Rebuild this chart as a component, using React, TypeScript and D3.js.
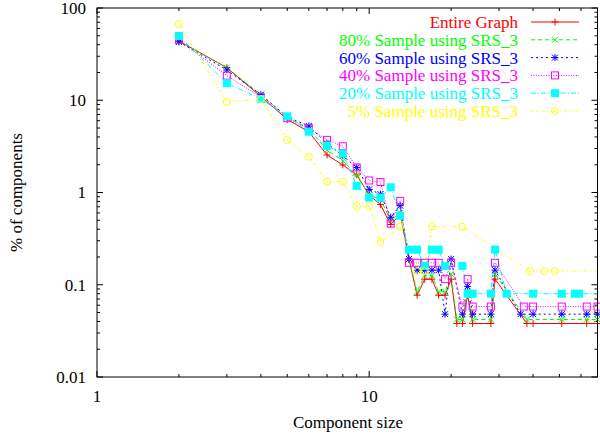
import React from 'react';
import * as d3 from 'd3';

const W = 600;
const H = 437;
const PLOT = { left: 97, right: 597.5, top: 8, bottom: 377 };

const xDomain: [number, number] = [1, 69];
const yDomain: [number, number] = [0.01, 100];
const xMajorTicks = [1, 10];
const xMajorLabels = ['1', '10'];
const xMinorTicks = [2, 3, 4, 5, 6, 7, 8, 9, 20, 30, 40, 50, 60];
const yMajorTicks = [0.01, 0.1, 1, 10, 100];
const yMajorLabels = ['0.01', '0.1', '1', '10', '100'];
const yMinorTicks = [0.02,0.03,0.04,0.05,0.06,0.07,0.08,0.09,0.2,0.3,0.4,0.5,0.6,0.7,0.8,0.9,2,3,4,5,6,7,8,9,20,30,40,50,60,70,80,90];

const seriesNames = [
  'Entire Graph',
  '80% Sample using SRS_3',
  '60% Sample using SRS_3',
  '40% Sample using SRS_3',
  '20% Sample using SRS_3',
  '5% Sample using SRS_3',
];
const seriesColors = ['#ff0000', '#00ff00', '#0000ff', '#ff00ff', '#00ffff', '#ffff00'];

const entireGraph: [number, number][] = [
  [2, 44], [3, 22.5], [4, 11], [5, 6.2], [6, 4.56], [7, 2.55], [8, 1.99], [9, 1.55], [10, 0.94],
  [11, 0.74], [12, 0.45], [13, 0.58], [14, 0.19], [15, 0.077], [16, 0.115], [17, 0.115], [18, 0.077],
  [19, 0.077], [20, 0.115], [21, 0.038], [22, 0.038], [23, 0.077], [24, 0.038], [28, 0.038], [29, 0.115],
  [38, 0.038], [40, 0.038], [51, 0.038], [63, 0.038], [69, 0.038],
];
const sample80: [number, number][] = [
  [2, 44], [3, 22.5], [4, 11.5], [5, 6.5], [6, 4.9], [7, 2.89], [8, 2.2], [9, 1.55], [10, 0.94],
  [11, 0.84], [12, 0.5], [13, 0.6], [14, 0.19], [15, 0.084], [16, 0.126], [17, 0.126], [18, 0.084],
  [19, 0.084], [20, 0.13], [21, 0.042], [22, 0.042], [23, 0.084], [24, 0.042], [28, 0.042], [29, 0.13],
  [38, 0.042], [51, 0.042], [63, 0.042], [69, 0.042],
];
const sample60: [number, number][] = [
  [2, 42.9], [3, 21.3], [4, 11.5], [5, 6.6], [6, 5.26], [7, 3.4], [8, 2.5], [9, 1.87], [10, 1.08],
  [11, 0.96], [12, 0.54], [13, 0.72], [14, 0.19], [15, 0.144], [16, 0.144], [17, 0.144], [18, 0.144],
  [19, 0.048], [20, 0.19], [22, 0.048], [23, 0.096], [24, 0.048], [28, 0.048], [29, 0.144],
  [36, 0.048], [40, 0.048], [51, 0.048], [63, 0.048], [69, 0.048],
];
const sample40: [number, number][] = [
  [2, 45], [3, 18.5], [4, 10.8], [5, 6.4], [6, 5.0], [7, 3.72], [8, 3.17], [9, 1.87], [10, 1.35],
  [11, 1.3], [12, 0.46], [13, 0.81], [14, 0.173], [15, 0.173], [16, 0.173], [17, 0.173], [18, 0.173],
  [19, 0.115], [20, 0.173], [22, 0.058], [23, 0.115], [24, 0.058], [28, 0.058], [29, 0.173],
  [37, 0.058], [40, 0.058], [51, 0.058], [63, 0.058], [69, 0.058],
];
const sample20: [number, number][] = [
  [2, 49.7], [3, 15.3], [4, 10.3], [5, 6.7], [6, 4.56], [7, 3.2], [8, 2.64], [9, 1.18], [10, 0.88],
  [11, 0.88], [12, 1.14], [13, 0.56], [14, 0.24], [15, 0.24], [16, 0.16], [17, 0.24], [18, 0.24],
  [19, 0.16], [22, 0.16], [23, 0.08], [24, 0.08], [28, 0.08], [29, 0.24], [32, 0.08], [40, 0.08],
  [51, 0.08], [57, 0.08], [59, 0.08], [75, 0.08],
];
const sample5: [number, number][] = [
  [2, 67], [3, 9.6], [4, 10.3], [5, 3.7], [6, 2.44], [7, 1.31], [8, 1.31], [9, 0.71], [10, 0.71],
  [11, 0.29], [13, 0.426], [15, 0.141], [16, 0.141], [17, 0.426], [22, 0.426], [39, 0.141],
  [44, 0.141], [48, 0.141], [80, 0.141],
];

const allSeries = [entireGraph, sample80, sample60, sample40, sample20, sample5];
const dashes = ['none', '4,3', '2,3', '1,1.5', '5,2,1,2', '3,2,1,2,1,2'];
const markerTypes = ['plus', 'cross', 'star', 'square', 'fsquare', 'circle'];

const FONT = "'Liberation Serif', 'DejaVu Serif', 'Noto Serif', 'Tinos', 'Nimbus Roman', 'FreeSerif', 'Times New Roman', Times, serif";
const textStyle: React.CSSProperties = { fontFamily: FONT, fontSize: '17px' };

function Marker({ type, x, y, color }: { type: string; x: number; y: number; color: string }) {
  const s = 3.5;
  const t = `translate(${x},${y})`;
  if (type === 'plus') return <path transform={t} d={`M${-s},0H${s}M0,${-s}V${s}`} stroke={color} strokeWidth={1} fill="none" />;
  if (type === 'cross') return <path transform={t} d={`M-3,-3L3,3M-3,3L3,-3`} stroke={color} strokeWidth={1} fill="none" />;
  if (type === 'star') return <path transform={t} d={`M${-s},0H${s}M0,${-s}V${s}M-3,-3L3,3M-3,3L3,-3`} stroke={color} strokeWidth={1} fill="none" />;
  if (type === 'square') return <rect transform={t} x={-s} y={-s} width={2 * s} height={2 * s} stroke={color} strokeWidth={1} fill="none" />;
  if (type === 'fsquare') return <rect transform={t} x={-s - 0.5} y={-s - 0.5} width={2 * s + 1} height={2 * s + 1} fill={color} stroke="none" />;
  return <circle transform={t} r={s} stroke={color} strokeWidth={1} fill="none" />;
}

export default function App() {
  const x = d3.scaleLog().domain(xDomain).range([PLOT.left, PLOT.right]);
  const y = d3.scaleLog().domain(yDomain).range([PLOT.bottom, PLOT.top]);
  const line = d3.line<[number, number]>().x(d => x(d[0])).y(d => y(d[1]));

  const legendX1 = 531, legendX2 = 579, legendTextX = 518;
  const legendY0 = 22, legendDy = 17.8;

  return (
    <svg width={W} height={H} style={{ position: 'absolute', left: 0, top: 0, background: '#fff' }}>
      <defs>
        <clipPath id="plotclip">
          <rect x={PLOT.left} y={PLOT.top} width={PLOT.right - PLOT.left} height={PLOT.bottom - PLOT.top} />
        </clipPath>
      </defs>
      <rect x={0} y={0} width={W} height={H} fill="#fff" />
      {/* ticks */}
      <g stroke="#000" strokeWidth={1}>
        {yMajorTicks.map((v, i) => (
          <g key={'ym' + i}>
            <line x1={PLOT.left} x2={PLOT.left + 6} y1={y(v)} y2={y(v)} />
            <line x1={PLOT.right} x2={PLOT.right - 6} y1={y(v)} y2={y(v)} />
          </g>
        ))}
        {yMinorTicks.map((v, i) => (
          <g key={'yn' + i}>
            <line x1={PLOT.left} x2={PLOT.left + 3} y1={y(v)} y2={y(v)} />
            <line x1={PLOT.right} x2={PLOT.right - 3} y1={y(v)} y2={y(v)} />
          </g>
        ))}
        {xMajorTicks.map((v, i) => (
          <g key={'xm' + i}>
            <line x1={x(v)} x2={x(v)} y1={PLOT.bottom} y2={PLOT.bottom - 6} />
            <line x1={x(v)} x2={x(v)} y1={PLOT.top} y2={PLOT.top + 6} />
          </g>
        ))}
        {xMinorTicks.map((v, i) => (
          <g key={'xn' + i}>
            <line x1={x(v)} x2={x(v)} y1={PLOT.bottom} y2={PLOT.bottom - 3} />
            <line x1={x(v)} x2={x(v)} y1={PLOT.top} y2={PLOT.top + 3} />
          </g>
        ))}
      </g>
      {/* tick labels */}
      <g fill="#000">
        {yMajorTicks.map((v, i) => (
          <text key={'yl' + i} style={textStyle} x={86} y={y(v)} dy="0.35em" textAnchor="end">{yMajorLabels[i]}</text>
        ))}
        {xMajorTicks.map((v, i) => (
          <text key={'xl' + i} style={textStyle} x={x(v)} y={402} textAnchor="middle">{xMajorLabels[i]}</text>
        ))}
        <text style={textStyle} x={348} y={428} textAnchor="middle">Component size</text>
        <text style={textStyle} transform={`translate(22,${(PLOT.top + PLOT.bottom) / 2}) rotate(-90)`} textAnchor="middle">% of components</text>
      </g>
      {/* series */}
      <g clipPath="url(#plotclip)">
        {allSeries.map((data, i) => (
          <path key={'l' + i} d={line(data) || ''} fill="none" stroke={seriesColors[i]} strokeWidth={1}
            strokeDasharray={dashes[i] === 'none' ? undefined : dashes[i]} />
        ))}
      </g>
      {allSeries.map((data, i) => (
        <g key={'m' + i}>
          {data.filter(d => d[0] >= xDomain[0] && d[0] <= xDomain[1]).map((d, j) => (
            <Marker key={j} type={markerTypes[i]} x={x(d[0])} y={y(d[1])} color={seriesColors[i]} />
          ))}
        </g>
      ))}
      {/* legend */}
      <g>
        {seriesNames.map((name, i) => {
          const ly = legendY0 + i * legendDy;
          return (
            <g key={'lg' + i}>
              <text style={textStyle} x={legendTextX} y={ly} dy="0.35em" textAnchor="end" fill={seriesColors[i]}>{name}</text>
              <line x1={legendX1} x2={legendX2} y1={ly} y2={ly} stroke={seriesColors[i]} strokeWidth={1}
                strokeDasharray={dashes[i] === 'none' ? undefined : dashes[i]} />
              <Marker type={markerTypes[i]} x={(legendX1 + legendX2) / 2} y={ly} color={seriesColors[i]} />
            </g>
          );
        })}
      </g>
      {/* border */}
      <rect x={PLOT.left} y={PLOT.top} width={PLOT.right - PLOT.left} height={PLOT.bottom - PLOT.top} fill="none" stroke="#000" strokeWidth={1} />
    </svg>
  );
}
